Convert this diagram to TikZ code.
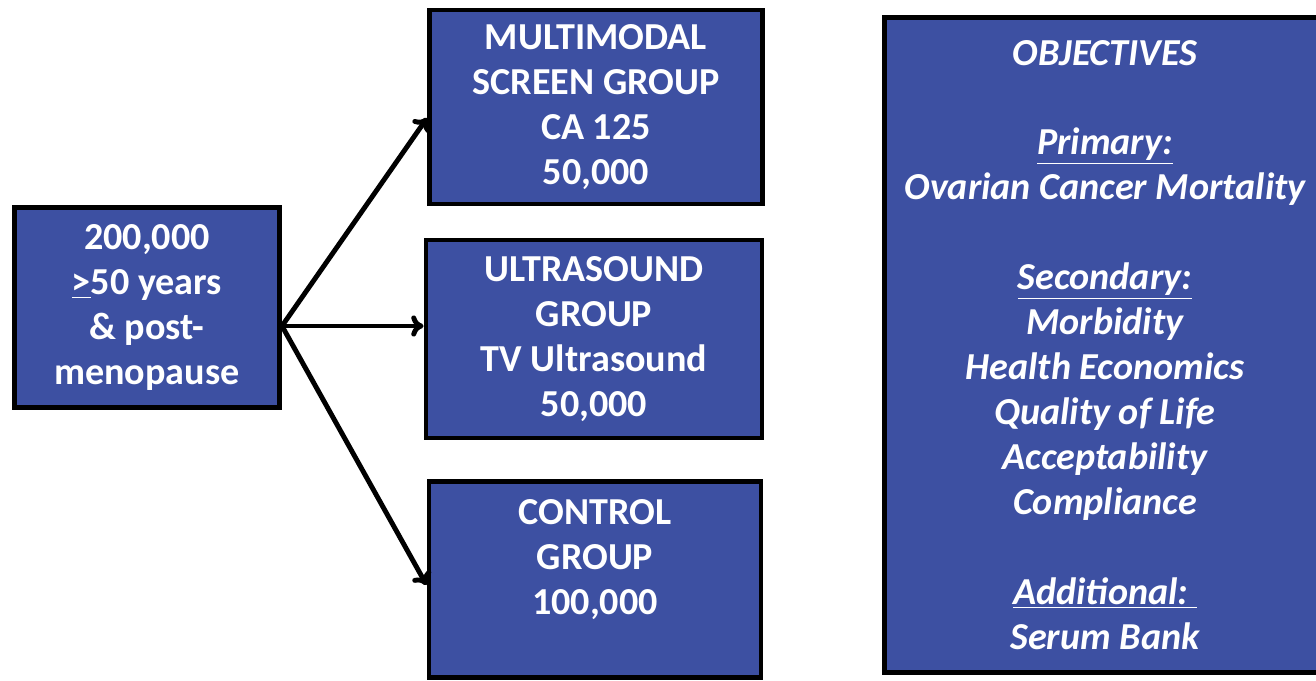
\documentclass[tikz,border=0pt]{standalone}
\usepackage{fontspec}
\setmainfont{Carlito}
\usetikzlibrary{arrows.meta}
\definecolor{boxblue}{RGB}{61,80,162}

\begin{document}
\begin{tikzpicture}[x=0.02cm,y=-0.02cm]
  \tikzset{box style/.style = {draw=black, line width=2.8pt, fill=boxblue, text=white, align=center, inner sep=0pt,
             font=\bfseries\fontsize{21.7}{25.6}\selectfont},
           goal style/.style = {box style, font=\bfseries\itshape\fontsize{21.7}{25.6}\selectfont},
           arrow style/.style = {line width=2.8pt, -{To[length=7pt,width=12pt]}}}
  \useasboundingbox (0,0) rectangle (1316,680);
  \node[box style, minimum width=5.3cm, minimum height=4cm] (women) at (147,307.5) {200,000\\\underline{>}50 years\\\& post-\\menopause};
  \node[box style, minimum width=6.66cm, minimum height=3.88cm] (mms) at (596,107) {MULTIMODAL\\SCREEN GROUP\\CA 125\\50,000};
  \node[box style, minimum width=6.72cm, minimum height=3.96cm] (uss) at (594,339) {ULTRASOUND\\GROUP\\TV Ultrasound\\50,000};
  \node[box style, minimum width=6.64cm, minimum height=3.92cm] (control) at (595,579.5) {CONTROL\\GROUP\\100,000\\\mbox{}};
  \node[goal style, minimum width=8.84cm, minimum height=13.12cm] (goals) at (1105,345) {OBJECTIVES\\[25.6pt]
    \underline{Primary:}\\Ovarian Cancer Mortality\\[25.6pt]
    \underline{Secondary:}\\Morbidity\\Health Economics\\Quality of Life\\Acceptability\\Compliance\\[25.6pt]
    \underline{Additional:\ }\\Serum Bank};
  \coordinate (fork) at (282,326);
  \draw[arrow style] (fork) -- (mms.west |- 0,118);
  \draw[arrow style] (fork) -- (uss.west |- 0,326);
  \draw[arrow style] (fork) -- (control.west |- 0,585);
\end{tikzpicture}
\end{document}
